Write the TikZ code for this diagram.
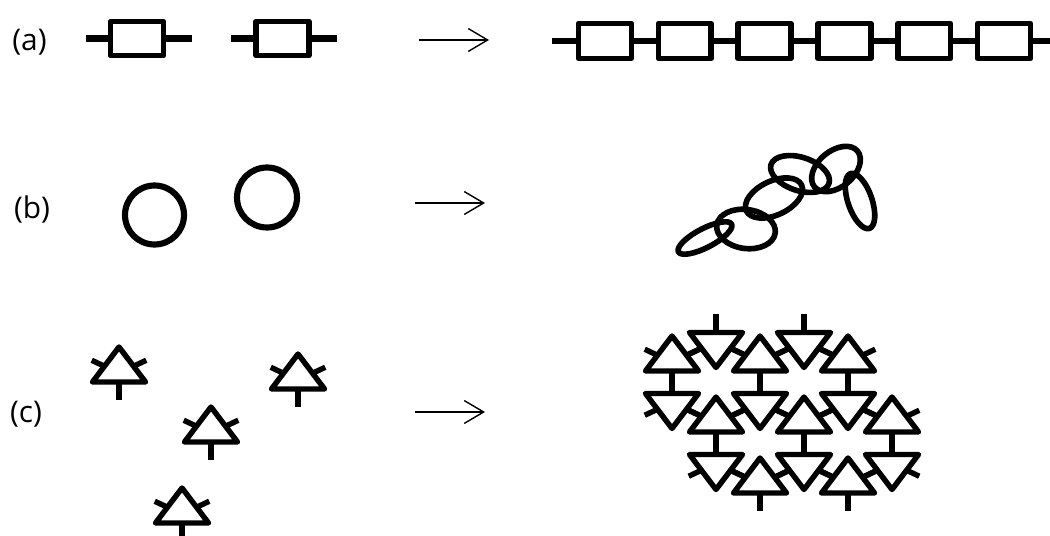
\documentclass[tikz,border=0pt]{standalone}
\usepackage{fontspec}
\setmainfont{Open Sans}
\usetikzlibrary{arrows.meta}

\begin{document}
\begin{tikzpicture}[x=0.02cm,y=-0.02cm,line join=round,
  lbl/.style={font=\fontsize{17}{20}\selectfont,inner sep=0pt},
  arr/.style={line width=0.8pt,-{Straight Barb[length=11pt,width=13pt]}},
  box/.style={line width=3.2pt,fill=white},
  lead/.style={line width=3.9pt},
  ring/.style={line width=3.5pt},
  loop/.style={line width=3.2pt},
  tri/.style={line width=3.1pt},
  stem/.style={line width=3.5pt},
  unit/.pic={
    \draw[stem] (0,0) -- (0,18);
    \draw[tri] (-14.6,-15.75) -- (-27.25,-21.75) (14.6,-15.75) -- (27.25,-21.75);
    \draw[tri] (-26.5,0) -- (26.5,0) -- (0,-35) -- cycle;
  }]
  \useasboundingbox (0,0) rectangle (1050,536);
  \node[lbl] (la) at (29.5,42) {(a)};
  \node[lbl] (lb) at (32,210) {(b)};
  \node[lbl] (lc) at (26,414) {(c)};
  % arrows
  \coordinate (a0) at (419,40);  \coordinate (a1) at (489,40);
  \coordinate (b0) at (415,203); \coordinate (b1) at (485,203);
  \coordinate (c0) at (415,412); \coordinate (c1) at (485,412);
  \draw[arr] (a0) -- (a1);
  \draw[arr] (b0) -- (b1);
  \draw[arr] (c0) -- (c1);
  % (a) single units and the chain
  \foreach \x/\l/\r in {137/86/192,282.5/231/337}{
    \draw[lead] (\l,38.5) -- (\r,38.5);
    \draw[box] (\x-26.5,21.5) rectangle (\x+26.5,55.5);
  }
  \draw[lead] (552,41) -- (1052,41);
  \foreach \k in {0,...,5}
    \draw[box] ({605+79.8*\k-26.4},23.6) rectangle ++(52.8,34.8);
  % (b) rings, then linked loops
  \draw[ring] (154.5,215) circle (29.5);
  \draw[ring] (267,197.5) circle (30);
  \foreach \cx/\cy/\a/\b/\t in {705/238/30/9.5/27.5,746/229/29.5/19.5/-8,774/198/30.5/17/25,
      800/174/30.5/16.7/-18,836/169/28/18/40,860/201/12/29/19}
    \draw[loop,rotate around={\t:(\cx,\cy)}] (\cx,\cy) ellipse [x radius=\a,y radius=\b];
  % (c) free units, then the packed sheet
  \foreach \x/\y in {119/382,298/389,211/442,182/523}
    \pic at (\x,\y) {unit};
  \foreach \x/\y in {672/371,760/371,848/371,716/432,804/432,892/432,760/493,848/493}
    \pic at (\x,\y) {unit};
  \foreach \x/\y in {716/332.5,804/332.5,672/393.5,760/393.5,848/393.5,716/454.5,804/454.5,892/454.5}
    \pic[rotate=180] at (\x,\y) {unit};
\end{tikzpicture}
\end{document}
